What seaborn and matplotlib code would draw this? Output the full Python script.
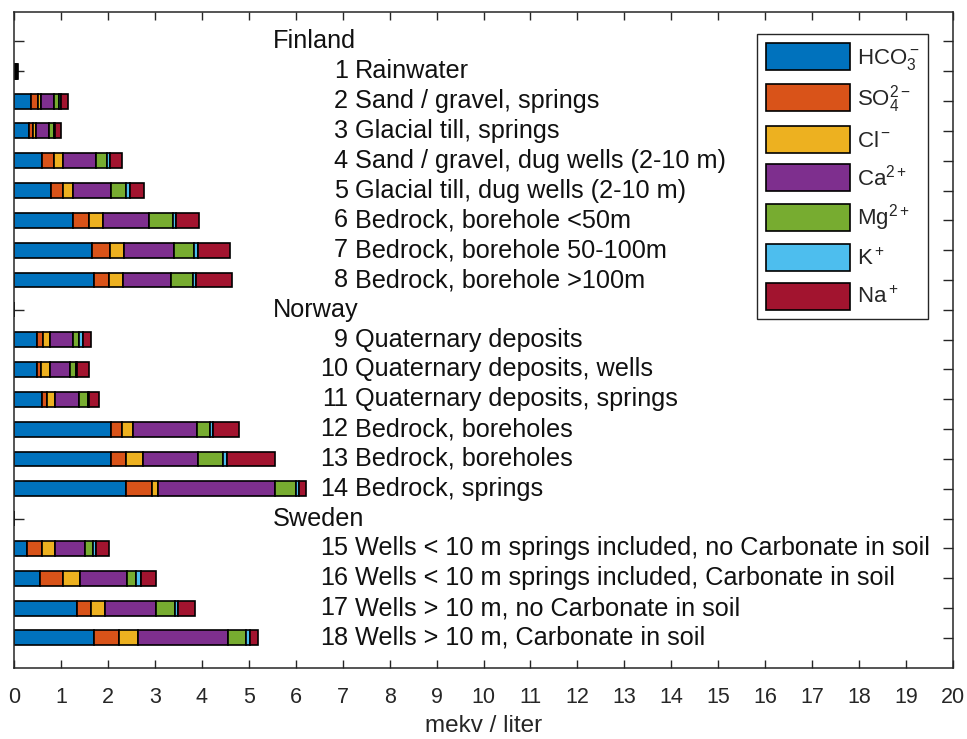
import numpy as np
import pandas as pd
import seaborn as sns
import matplotlib
matplotlib.use("Agg")
import matplotlib.pyplot as plt
from matplotlib.patches import Patch

# Groundwater chemistry in the Nordic countries, mean concentrations (mekv / liter)
groups = ["Finland", "Norway", "Sweden"]
group_rows = [0, 9, 16]

sample_names = [
    "Rainwater",
    "Sand / gravel, springs",
    "Glacial till, springs",
    "Sand / gravel, dug wells (2-10 m)",
    "Glacial till, dug wells (2-10 m)",
    "Bedrock, borehole <50m",
    "Bedrock, borehole 50-100m",
    "Bedrock, borehole >100m",
    "Quaternary deposits",
    "Quaternary deposits, wells",
    "Quaternary deposits, springs",
    "Bedrock, boreholes",
    "Bedrock, boreholes",
    "Bedrock, springs",
    "Wells < 10 m springs included, no Carbonate in soil",
    "Wells < 10 m springs included, Carbonate in soil",
    "Wells > 10 m, no Carbonate in soil",
    "Wells > 10 m, Carbonate in soil",
]
sample_rows = [1, 2, 3, 4, 5, 6, 7, 8, 10, 11, 12, 13, 14, 15, 17, 18, 19, 20]

ions = ["HCO3", "SO4", "Cl", "Ca", "Mg", "K", "Na"]
ion_labels = ["HCO$_3^-$", "SO$_4^{2-}$", "Cl$^-$", "Ca$^{2+}$",
              "Mg$^{2+}$", "K$^+$", "Na$^+$"]
ion_colors = ["#0072BD", "#D95319", "#EDB120", "#7E2F8E",
              "#77AC30", "#4DBEEE", "#A2142F"]

hco3 = [0.00, 0.36, 0.32, 0.59, 0.78, 1.26, 1.66, 1.69, 0.48, 0.48, 0.60,
        2.06, 2.06, 2.37, 0.26, 0.55, 1.33, 1.69]
so4 = [0.025, 0.14, 0.075, 0.26, 0.26, 0.34, 0.37, 0.33, 0.14, 0.09, 0.09,
       0.23, 0.33, 0.57, 0.34, 0.48, 0.31, 0.55]
cl = [0.02, 0.07, 0.065, 0.19, 0.21, 0.30, 0.30, 0.30, 0.14, 0.18, 0.18,
      0.25, 0.36, 0.12, 0.27, 0.36, 0.30, 0.39]
ca = [0.01, 0.27, 0.27, 0.71, 0.82, 0.98, 1.07, 1.03, 0.50, 0.43, 0.51,
      1.36, 1.17, 2.49, 0.64, 1.01, 1.09, 1.92]
mg = [0.005, 0.12, 0.11, 0.23, 0.30, 0.50, 0.44, 0.45, 0.11, 0.13, 0.18,
      0.27, 0.53, 0.46, 0.17, 0.20, 0.39, 0.39]
k = [0.003, 0.04, 0.025, 0.06, 0.09, 0.07, 0.085, 0.07, 0.085, 0.03, 0.035,
     0.06, 0.09, 0.055, 0.07, 0.11, 0.07, 0.09]
na = [0.017, 0.15, 0.13, 0.25, 0.31, 0.48, 0.68, 0.78, 0.18, 0.25, 0.21,
      0.55, 1.01, 0.16, 0.27, 0.32, 0.36, 0.16]

values = dict(zip(ions, [hco3, so4, cl, ca, mg, k, na]))

records = []
for ion in ions:
    for row, v in zip(sample_rows, values[ion]):
        records.append({"row": row, "ion": ion, "value": v})
df = pd.DataFrame(records)

sns.set_theme(style="white")
plt.rcParams["font.family"] = ["Liberation Sans", "DejaVu Sans"]
plt.rcParams["mathtext.fontset"] = "custom"
plt.rcParams["mathtext.rm"] = "Liberation Sans"
plt.rcParams["mathtext.it"] = "Liberation Sans:italic"
plt.rcParams["mathtext.bf"] = "Liberation Sans:bold"

fig = plt.figure(figsize=(9.67, 7.39), dpi=100)
ax = fig.add_axes([0.0148, 0.0965, 0.9704, 0.8877])

# seaborn stacks the last hue level at the base, so feed the order reversed
sns.histplot(
    data=df, y="row", weights="value", hue="ion",
    hue_order=ions[::-1], palette=dict(zip(ions, ion_colors)),
    multiple="stack", discrete=True, shrink=0.5,
    edgecolor="black", linewidth=1.2, alpha=1, legend=False, ax=ax,
)

ax.set_xlim(0, 20)
ax.set_ylim(21, -1)
ax.set_xticks(range(0, 21))
ax.set_yticks(range(0, 21))
ax.set_yticklabels([])
ax.set_ylabel("")
ax.set_xlabel("mekv / liter", fontsize=17.5, labelpad=5, color="#262626")
ax.tick_params(axis="x", direction="in", top=True, bottom=True, length=6,
               width=1, labelsize=15.5, colors="#262626", pad=14)
ax.tick_params(axis="y", direction="in", left=True, right=True, length=7.5,
               width=1, colors="#262626")
for sp in ax.spines.values():
    sp.set_visible(True)
    sp.set_color("#262626")
    sp.set_linewidth(1.1)

txt_size = 18.2
for name, row in zip(groups, group_rows):
    ax.text(5.51, row, name, ha="left", va="center", fontsize=txt_size,
            color="#111111")
for i, (name, row) in enumerate(zip(sample_names, sample_rows), start=1):
    ax.text(7.11, row, str(i), ha="right", va="center", fontsize=txt_size,
            color="#111111")
    ax.text(7.26, row, name, ha="left", va="center", fontsize=txt_size,
            color="#111111")

handles = [Patch(facecolor=c, edgecolor="black", linewidth=1.2)
           for c in ion_colors]
leg = ax.legend(handles, ion_labels, loc="upper left",
                bbox_to_anchor=(0.7915, 0.966), borderaxespad=0, fontsize=16,
                handlelength=3.8, handleheight=1.5, handletextpad=0.3,
                labelspacing=0.5, borderpad=0.4, frameon=True,
                fancybox=False, framealpha=1)
leg.get_frame().set_edgecolor("#262626")
leg.get_frame().set_linewidth(1.0)

fig.savefig("out.png", dpi=100)
